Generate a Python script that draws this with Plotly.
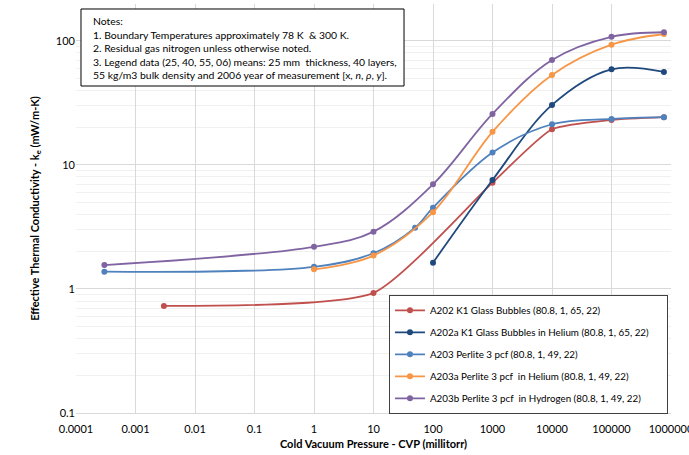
import plotly.graph_objects as go

# Cold vacuum pressure (millitorr) and effective thermal conductivity (mW/m-K)
a202_p = [0.003, 10, 1000, 10000, 100000, 760000]
a202_k = [0.73, 0.93, 7.2, 19.4, 23.1, 24.3]

a202a_p = [100, 1000, 10000, 100000, 760000]
a202a_k = [1.63, 7.57, 30.5, 59.1, 56.2]

a203_p = [0.0003, 1, 10, 50, 100, 1000, 10000, 100000, 760000]
a203_k = [1.38, 1.51, 1.94, 3.12, 4.52, 12.6, 21.3, 23.5, 24.3]

a203a_p = [1, 10, 100, 1000, 10000, 100000, 760000]
a203a_k = [1.44, 1.86, 4.16, 18.5, 53.2, 93.4, 113.8]

a203b_p = [0.0003, 1, 10, 100, 1000, 10000, 100000, 760000]
a203b_k = [1.56, 2.19, 2.9, 6.98, 25.8, 70.3, 108, 117.5]

series_names = [
    "A202 K1 Glass Bubbles (80.8, 1, 65, 22)",
    "A202a K1 Glass Bubbles in Helium (80.8, 1, 65, 22)",
    "A203 Perlite 3 pcf (80.8, 1, 49, 22)",
    "A203a Perlite 3 pcf  in Helium (80.8, 1, 49, 22)",
    "A203b Perlite 3 pcf  in Hydrogen (80.8, 1, 49, 22)",
]
series_colors = ["#C0504D", "#1F497D", "#4F81BD", "#F79646", "#8064A2"]
series_smoothing = [0.55, 1.0, 1.0, 1.0, 1.0]

x_tickvals = [1e-4, 1e-3, 1e-2, 1e-1, 1, 10, 100, 1000, 10000, 100000, 1000000]
x_ticktext = ["0.0001", "0.001", "0.01", "0.1", "1", "10", "100", "1000",
              "10000", "100000", "1000000"]
y_tickvals = [0.1, 1, 10, 100]
y_ticktext = ["0.1", "1", "10", "100"]

notes_text = (
    "Notes:<br>"
    "1. Boundary Temperatures approximately 78 K  & 300 K.<br>"
    "2. Residual gas nitrogen unless otherwise noted.<br>"
    "3. Legend data (25, 40, 55, 06) means: 25 mm  thickness, 40 layers,<br>"
    "55 kg/m3 bulk density and 2006 year of measurement [x, <i>n</i>, <i>ρ</i>, <i>y</i>]."
)

FONT = "Lato, 'Open Sans', sans-serif"
# trailing padding so the legend box spans out to the plot's right edge
LEGEND_PAD = "\u00a0" * 5

fig = go.Figure()
all_series = [
    (a202_p, a202_k), (a202a_p, a202a_k), (a203_p, a203_k),
    (a203a_p, a203a_k), (a203b_p, a203b_k),
]
for i, ((px, ky), name, color, sm) in enumerate(
        zip(all_series, series_names, series_colors, series_smoothing)):
    fig.add_trace(go.Scatter(
        x=px, y=ky, name=name + LEGEND_PAD, mode="lines+markers",
        line=dict(color=color, width=1.8, shape="spline", smoothing=sm),
        marker=dict(color=color, size=6),
        legendgroup=f"g{i}",
    ))

fig.update_layout(
    width=689, height=455,
    margin=dict(l=76, r=18, t=4, b=42),
    paper_bgcolor="white", plot_bgcolor="white",
    font=dict(family=FONT, size=11, color="#000000"),
    showlegend=True,
    legend=dict(
        x=0.526, y=0.289, xanchor="left", yanchor="top",
        bgcolor="white", bordercolor="#404040", borderwidth=1,
        font=dict(family=FONT, size=9.8, color="#000000"),
        tracegroupgap=3, itemwidth=30,
    ),
    xaxis=dict(
        type="log", range=[-4, 6],
        tickvals=x_tickvals, ticktext=x_ticktext,
        showgrid=True, gridcolor="#D9D9D9", gridwidth=1,
        showline=True, linecolor="#D9D9D9", linewidth=1,
        ticks="", zeroline=False, ticklabelstandoff=6,
        ticklabeloverflow="allow", automargin=False,
        tickfont=dict(family=FONT, size=11, color="#000000"),
        title=dict(text="<b>Cold Vacuum Pressure - CVP (millitorr)</b>",
                   font=dict(family=FONT, size=11, color="#000000"), standoff=6),
    ),
    yaxis=dict(
        type="log", range=[-1, 2.298],
        tickvals=y_tickvals, ticktext=y_ticktext,
        showgrid=True, gridcolor="#D9D9D9", gridwidth=1,
        minor=dict(showgrid=True, gridcolor="#F0F0F0", gridwidth=1, dtick="D1", ticks=""),
        showline=False, ticks="", zeroline=False,
        tickfont=dict(family=FONT, size=11, color="#000000"),
        title=dict(text="<b>Effective Thermal Conductivity - k<sub>e</sub> (mW/m-K)</b>",
                   font=dict(family=FONT, size=11, color="#000000"), standoff=14),
    ),
    shapes=[dict(
        type="rect", xref="paper", yref="paper",
        x0=0.0084, x1=0.5513, y0=0.7995, y1=0.9878,
        line=dict(color="#000000", width=1), fillcolor="white", layer="above",
    )],
    annotations=[dict(
        text=notes_text, xref="paper", yref="paper",
        x=0.0252, y=0.978, xanchor="left", yanchor="top",
        align="left", showarrow=False,
        font=dict(family=FONT, size=10.4, color="#000000"),
    )],
)

fig.write_html("out.html")
